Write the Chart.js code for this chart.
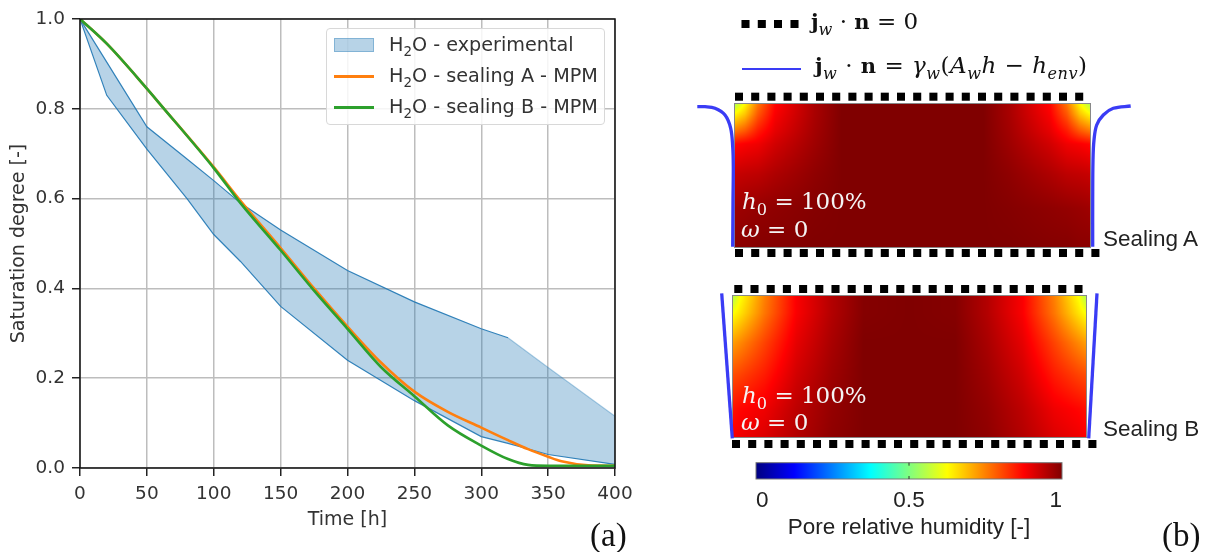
<!DOCTYPE html>
<html>
<head>
<meta charset="utf-8">
<script src="https://cdn.jsdelivr.net/npm/chart.js@4/dist/chart.umd.min.js"></script>
<style>
body { margin:0; background:#fff; width:1214px; height:552px; overflow:hidden; position:relative; }
canvas { position:absolute; }
canvas, .txt, #legend { filter:blur(0.5px); }
.txt { position:absolute; white-space:nowrap; line-height:0; color:#111; }
.math { font-family:"DejaVu Serif",serif; font-size:23px; }
.math b { font-size:21px; }
.math i { font-style:italic; }
.math sub { font-size:70%; line-height:0; }
.white { color:#f4f4f4; }
.sans { font-family:"Liberation Sans",sans-serif; font-size:22.5px; color:#222; }
.tag { font-family:"Liberation Serif",serif; font-size:33px; color:#111; }
#legend { position:absolute; left:326px; top:28px; width:279px; height:97px; box-sizing:border-box; border:1px solid #d8d8d8; border-radius:4px; background:rgba(255,255,255,.85); font-family:"DejaVu Sans",sans-serif; font-size:19.2px; color:#333; }
#legend .row { position:absolute; left:62px; line-height:20px; white-space:nowrap; }
#legend .row sub { font-size:70%; line-height:0; }
#legend .swatch { position:absolute; left:7px; width:40px; box-sizing:border-box; }
</style>
</head>
<body>
<canvas id="curves" width="640" height="552" style="left:0;top:0"></canvas>
<canvas id="diagram" width="574" height="552" style="left:640px;top:0"></canvas>
<canvas id="colorbar" width="400" height="102" style="left:710px;top:450px"></canvas>
<div id="legend"></div>

<div class="txt math" style="left:811px;top:21px"><b>j</b><sub><i>w</i></sub> · <b>n</b> = 0</div>
<div class="txt math" style="left:815px;top:65px;letter-spacing:0.5px"><b>j</b><sub><i>w</i></sub> · <b>n</b> = <i>γ<sub>w</sub></i>(<i>A<sub>w</sub>h</i> − <i>h<sub>env</sub></i>)</div>
<div class="txt math white" style="left:742px;top:201px"><i>h</i><sub>0</sub> = 100%</div>
<div class="txt math white" style="left:741px;top:229px"><i>ω</i> = 0</div>
<div class="txt math white" style="left:742px;top:395px"><i>h</i><sub>0</sub> = 100%</div>
<div class="txt math white" style="left:741px;top:422px"><i>ω</i> = 0</div>
<div class="txt sans" style="left:1103px;top:239px">Sealing A</div>
<div class="txt sans" style="left:1103px;top:429px">Sealing B</div>
<div class="txt tag" style="left:590px;top:535px">(a)</div>
<div class="txt tag" style="left:1162px;top:535px">(b)</div>

<script>
// left plot: saturation curves
var xTicks = [0,50,100,150,200,250,300,350,400];
var yTicks = [0,0.2,0.4,0.6,0.8,1];
var experimentalTime = [0,20,50,80,100,120,150,200,250,300,320,350,400];
var experimentalUpper = [1,0.904,0.76,0.688,0.64,0.59,0.53,0.44,0.37,0.31,0.29,0.224,0.115];
var experimentalLower = [1,0.83,0.71,0.6,0.52,0.46,0.36,0.24,0.15,0.07,0.055,0.03,0.008];
var modelTime = [0,20,50,60,100,120,150,175,200,225,250,275,300,320,335,350,360,380,400];
var sealingA = [1,0.945,0.845,0.81,0.67,0.595,0.49,0.4,0.315,0.235,0.17,0.125,0.09,0.062,0.042,0.025,0.015,0.006,0.005];
var sealingB = [1,0.945,0.845,0.81,0.668,0.59,0.485,0.395,0.31,0.225,0.16,0.095,0.05,0.02,0.007,0.005,0.005,0.005,0.005];
var legendLabels = ['H₂O - experimental','H₂O - sealing A - MPM','H₂O - sealing B - MPM'];

// right panel: schematic, in page pixels
var noFluxA = { topX:739, topY:96.7, bottomX:739, bottomY:253 };
var noFluxB = { topX:738.3, topY:289, bottomX:736, bottomY:444 };
var squarePitch = 16.2;
var legendSquaresX = [745.5,761.8,778,794.5];
var legendSquaresY = [24,24,24,24];
var legendLineX = [742,801];
var legendLineY = [69,69];
var leftWallAX = [732.7,733,733.3,732.7,730.7,725,715,705,697.3];
var leftWallAY = [246.7,200,166.7,146.7,128.3,115,108.3,106.7,106.7];
var rightWallAX = [1092.7,1092.7,1093,1094,1096.7,1103.3,1113.3,1130.7];
var rightWallAY = [246.7,200,160,140,125,115,108.3,106];
var leftWallBX = [721.7,732.3];
var leftWallBY = [293.3,438.3];
var rightWallBX = [1097,1088.7];
var rightWallBY = [293.3,438.3];

// humidity: distance from nearest wall / depth from top
var fieldA = { x0:735, x1:1090, y0:104.3, y1:246.7,
  across:[0,0.028,0.065,0.113,0.225,0.3,0.5],
  down:[0,0.07,0.19,0.28,0.49,0.73,1],
  cells:[
    [0.55,0.63,0.76,0.87,0.96,1,1],
    [0.63,0.68,0.79,0.88,0.96,1,1],
    [0.76,0.79,0.85,0.9,0.965,1,1],
    [0.87,0.88,0.89,0.92,0.97,1,1],
    [0.93,0.935,0.94,0.955,0.985,1,1],
    [0.97,0.975,0.98,0.985,0.995,1,1],
    [0.99,0.99,0.995,0.995,1,1,1]
  ]};
var fieldB = { x0:733.3, x1:1086.3, y0:295.7, y1:437.3,
  across:[0,0.02,0.09,0.18,0.28,0.37,0.5],
  down:[0,0.12,0.33,0.56,0.8,1],
  cells:[
    [0.55,0.62,0.75,0.88,0.95,0.995,1],
    [0.62,0.65,0.76,0.88,0.95,0.995,1],
    [0.72,0.74,0.81,0.9,0.96,1,1],
    [0.8,0.81,0.85,0.92,0.97,1,1],
    [0.86,0.87,0.89,0.94,0.98,1,1],
    [0.88,0.89,0.91,0.95,0.985,1,1]
  ]};
var jetStops = [[0,0,0,128],[0.125,0,0,255],[0.375,0,255,255],[0.625,255,255,0],[0.875,255,0,0],[1,128,0,0]];
var colorbarTicks = [0,0.5,1];

var tickFont = { family:'"DejaVu Sans",sans-serif', size:18.5 };
var titleFont = { family:'"DejaVu Sans",sans-serif', size:19 };
var barFont = { family:'"Liberation Sans",sans-serif', size:22.5 };
var blue = 'rgba(31,119,180,0.9)';
var wallBlue = '#3a3cf5';

function pairs(xs, ys) {
  return xs.map(function(x, i) { return { x:x, y:ys[i] }; });
}

function jet(v) {
  for (var i = 1; i < jetStops.length; i++) {
    if (v <= jetStops[i][0]) {
      var a = jetStops[i-1], b = jetStops[i], t = (v - a[0]) / (b[0] - a[0]);
      return [a[1]+(b[1]-a[1])*t, a[2]+(b[2]-a[2])*t, a[3]+(b[3]-a[3])*t];
    }
  }
  return jetStops[jetStops.length-1].slice(1);
}

function findSpan(nodes, v) {
  var i = 0;
  while (i < nodes.length - 2 && v > nodes[i+1]) i++;
  return { i:i, t:(v - nodes[i]) / (nodes[i+1] - nodes[i]) };
}

function drawField(chart, f) {
  var sx = chart.scales.x, sy = chart.scales.y, ctx = chart.ctx;
  var left = Math.round(sx.getPixelForValue(f.x0)), right = Math.round(sx.getPixelForValue(f.x1));
  var top = Math.round(sy.getPixelForValue(f.y0)), bottom = Math.round(sy.getPixelForValue(f.y1));
  var w = right - left, h = bottom - top;
  var img = ctx.createImageData(w, h);
  for (var py = 0; py < h; py++) {
    var r = findSpan(f.down, (py + 0.5) / h);
    for (var px = 0; px < w; px++) {
      var fx = (px + 0.5) / w;
      var c = findSpan(f.across, Math.min(fx, 1 - fx));
      var row0 = f.cells[r.i], row1 = f.cells[r.i+1];
      var v0 = row0[c.i] + (row0[c.i+1] - row0[c.i]) * c.t;
      var v1 = row1[c.i] + (row1[c.i+1] - row1[c.i]) * c.t;
      var rgb = jet(v0 + (v1 - v0) * r.t);
      var k = (py * w + px) * 4;
      img.data[k] = rgb[0]; img.data[k+1] = rgb[1]; img.data[k+2] = rgb[2]; img.data[k+3] = 255;
    }
  }
  ctx.putImageData(img, left, top);
  ctx.strokeStyle = '#888';
  ctx.lineWidth = 1;
  ctx.strokeRect(left - 0.5, top - 0.5, w + 1, h + 1);
}

function squareRow(startX, y, count) {
  var pts = [];
  for (var i = 0; i < count; i++) pts.push({ x:startX + i * squarePitch, y:y });
  return pts;
}

function squaresDataset(pts) {
  return { data:pts, showLine:false, pointStyle:'rect', pointRadius:5.7, pointBackgroundColor:'#000', pointBorderWidth:0 };
}

function wallDataset(xs, ys, tension, width) {
  return { data:pairs(xs, ys), showLine:true, borderColor:wallBlue, borderWidth:width, pointRadius:0, tension:tension };
}

// the axes frame: chart.js only strokes the left and bottom edges
var framePlugin = {
  id:'frame',
  afterDatasetsDraw: function(chart) {
    var a = chart.chartArea, ctx = chart.ctx;
    ctx.save();
    ctx.strokeStyle = '#111';
    ctx.lineWidth = 1.5;
    ctx.strokeRect(a.left, a.top, a.right - a.left, a.bottom - a.top);
    ctx.restore();
  }
};

var curves = new Chart(document.getElementById('curves'), {
  type:'scatter',
  data:{ datasets:[
    { label:legendLabels[0], data:pairs(experimentalTime, experimentalUpper), showLine:true, pointRadius:0, borderWidth:1.2, borderColor:blue,
      backgroundColor:'rgba(31,119,180,0.32)', fill:'+1', order:3,
      segment:{ borderColor:function(c) { return c.p0.parsed.x >= 320 ? 'rgba(31,119,180,0.35)' : undefined; } } },
    { data:pairs(experimentalTime, experimentalLower), showLine:true, pointRadius:0, borderWidth:1.2, borderColor:blue, order:3 },
    { label:legendLabels[1], data:pairs(modelTime, sealingA), showLine:true, pointRadius:0, borderWidth:2.6, borderColor:'#ff7f0e', cubicInterpolationMode:'monotone', order:2 },
    { label:legendLabels[2], data:pairs(modelTime, sealingB), showLine:true, pointRadius:0, borderWidth:2.6, borderColor:'#2ca02c', cubicInterpolationMode:'monotone', order:1 }
  ]},
  options:{
    responsive:false, animation:false, devicePixelRatio:1,
    layout:{ autoPadding:false, padding:{ left:8, top:19, right:25, bottom:21 } },
    plugins:{ legend:{ display:false }, tooltip:{ enabled:false } },
    scales:{
      x:{ type:'linear', min:0, max:400,
        afterBuildTicks:function(axis) { axis.ticks = xTicks.map(function(v) { return { value:v }; }); },
        afterFit:function(axis) { axis.height = 63; },
        grid:{ color:'#bdbdbd', lineWidth:1.5, tickColor:'#222', tickLength:8 },
        border:{ display:false },
        ticks:{ font:tickFont, color:'#333', padding:7, maxRotation:0, autoSkip:false },
        title:{ display:true, text:'Time [h]', font:titleFont, color:'#333', padding:0 }
      },
      y:{ min:0, max:1,
        afterBuildTicks:function(axis) { axis.ticks = yTicks.map(function(v) { return { value:v }; }); },
        afterFit:function(axis) { axis.width = 72; },
        grid:{ color:'#bdbdbd', lineWidth:1.5, tickColor:'#222', tickLength:8 },
        border:{ display:false },
        ticks:{ font:tickFont, color:'#333', padding:7, autoSkip:false, callback:function(v) { return v.toFixed(1); } },
        title:{ display:true, text:'Saturation degree [-]', font:titleFont, color:'#333', padding:0 }
      }
    }
  },
  plugins:[framePlugin]
});

// html legend built from the chart's own datasets
var legendBox = document.getElementById('legend');
curves.data.datasets.forEach(function(ds) {
  if (!ds.label) return;
  var n = legendBox.querySelectorAll('.row').length;
  var centre = 16 + n * 31;
  var row = document.createElement('div');
  row.className = 'row';
  row.style.top = (centre - 10) + 'px';
  row.innerHTML = ds.label.replace('₂', '<sub>2</sub>');
  legendBox.appendChild(row);
  var sw = document.createElement('div');
  sw.className = 'swatch';
  if (ds.fill) {
    sw.style.top = (centre - 7) + 'px';
    sw.style.height = '14px';
    sw.style.background = ds.backgroundColor;
    sw.style.border = '1px solid rgba(31,119,180,0.35)';
  } else {
    sw.style.top = (centre - 1) + 'px';
    sw.style.height = '3px';
    sw.style.background = ds.borderColor;
  }
  legendBox.appendChild(sw);
});

new Chart(document.getElementById('diagram'), {
  type:'scatter',
  data:{ datasets:[
    squaresDataset(pairs(legendSquaresX, legendSquaresY)),
    wallDataset(legendLineX, legendLineY, 0, 2.2),
    squaresDataset(squareRow(noFluxA.topX, noFluxA.topY, 22)),
    squaresDataset(squareRow(noFluxA.bottomX, noFluxA.bottomY, 23)),
    squaresDataset(squareRow(noFluxB.topX, noFluxB.topY, 22)),
    squaresDataset(squareRow(noFluxB.bottomX, noFluxB.bottomY, 23)),
    wallDataset(leftWallAX, leftWallAY, 0.35, 3.3),
    wallDataset(rightWallAX, rightWallAY, 0.35, 3.3),
    wallDataset(leftWallBX, leftWallBY, 0, 3.3),
    wallDataset(rightWallBX, rightWallBY, 0, 3.3)
  ]},
  options:{
    responsive:false, animation:false, devicePixelRatio:1,
    layout:{ autoPadding:false, padding:0 },
    plugins:{ legend:{ display:false }, tooltip:{ enabled:false } },
    scales:{
      x:{ type:'linear', min:640, max:1214, display:false },
      y:{ type:'linear', min:0, max:552, reverse:true, display:false }
    }
  },
  plugins:[{
    id:'fields',
    beforeDatasetsDraw:function(chart) {
      drawField(chart, fieldA);
      drawField(chart, fieldB);
    }
  }]
});

new Chart(document.getElementById('colorbar'), {
  type:'scatter',
  data:{ datasets:[{ data:[] }] },
  options:{
    responsive:false, animation:false, devicePixelRatio:1,
    layout:{ autoPadding:false, padding:{ left:46, right:48, top:12.7, bottom:11 } },
    plugins:{ legend:{ display:false }, tooltip:{ enabled:false } },
    scales:{
      x:{ type:'linear', min:0, max:1,
        afterBuildTicks:function(axis) { axis.ticks = colorbarTicks.map(function(v) { return { value:v }; }); },
        afterFit:function(axis) { axis.height = 62; },
        grid:{ display:false, drawTicks:false },
        border:{ display:false },
        ticks:{ font:barFont, color:'#222', padding:8, align:'inner', maxRotation:0, autoSkip:false,
          callback:function(v) { return String(v); } },
        title:{ display:true, text:'Pore relative humidity [-]', font:barFont, color:'#222', padding:0 }
      },
      y:{ display:false, min:0, max:1 }
    }
  },
  plugins:[{
    id:'bar',
    beforeDatasetsDraw:function(chart) {
      var a = chart.chartArea, ctx = chart.ctx, sx = chart.scales.x;
      var g = ctx.createLinearGradient(sx.getPixelForValue(0), 0, sx.getPixelForValue(1), 0);
      jetStops.forEach(function(s) { g.addColorStop(s[0], 'rgb(' + s[1] + ',' + s[2] + ',' + s[3] + ')'); });
      ctx.fillStyle = g;
      ctx.fillRect(a.left, a.top, a.right - a.left, a.bottom - a.top);
      ctx.strokeStyle = '#777';
      ctx.lineWidth = 1;
      ctx.strokeRect(a.left, a.top, a.right - a.left, a.bottom - a.top);
      ctx.strokeStyle = '#333';
      var mid = sx.getPixelForValue(0.5);
      ctx.beginPath();
      ctx.moveTo(mid, a.top); ctx.lineTo(mid, a.top + 3);
      ctx.moveTo(mid, a.bottom - 3); ctx.lineTo(mid, a.bottom);
      ctx.stroke();
    }
  }]
});
</script>
</body>
</html>
